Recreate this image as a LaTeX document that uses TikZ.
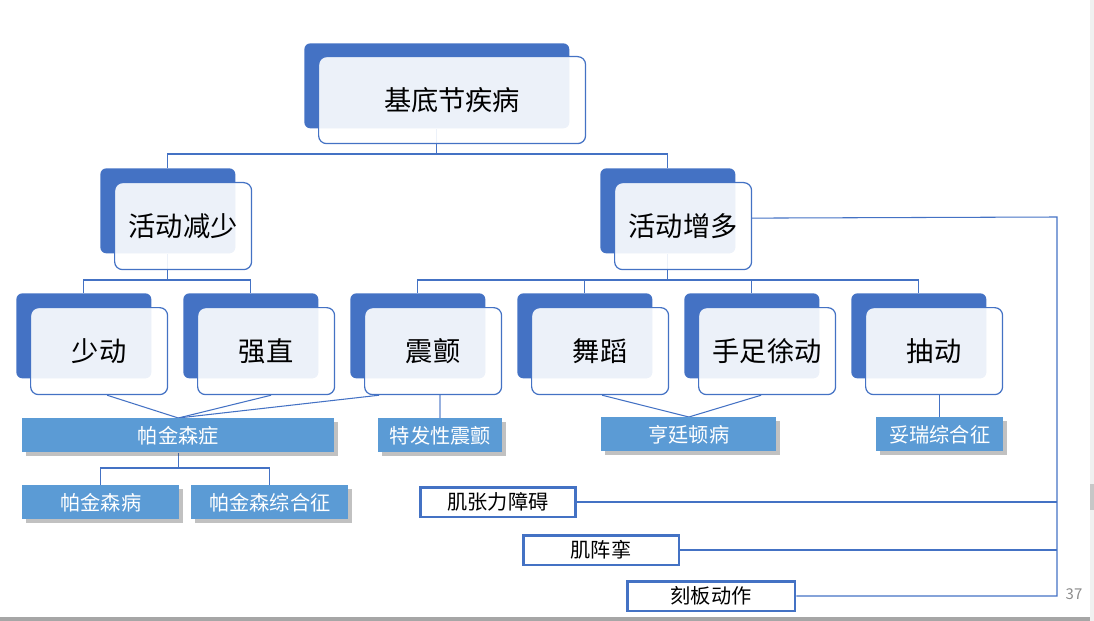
\documentclass[tikz,border=0pt]{standalone}
\usepackage{fontspec}
\setmainfont{Noto Sans CJK SC}
\usetikzlibrary{calc,positioning,backgrounds,shadows}
\definecolor{azul}{HTML}{4472C4}
\definecolor{celeste}{HTML}{5B9BD5}
\definecolor{gris}{HTML}{8C8C8C}

\begin{document}
\begin{tikzpicture}[x=0.02cm,y=-0.02cm,line cap=round,
    fondo/.style={fill=azul,rounded corners=3.4pt,inner sep=0pt,anchor=north west,
      minimum width=2.7cm,minimum height=1.7cm},
    tarjeta/.style={draw=azul,line width=0.7pt,fill=white,fill opacity=0.9,text opacity=1,
      rounded corners=4.5pt,inner sep=0pt,anchor=north west,minimum width=2.74cm,
      minimum height=1.74cm,font=\fontsize{15.5}{18}\selectfont},
    hoja/.style={fill=celeste,text=white,inner sep=0pt,anchor=north west,minimum height=0.68cm,
      font=\fontsize{11.5}{14}\selectfont,
      drop shadow={shadow xshift=2pt,shadow yshift=-2pt,opacity=0.35,fill=black!70}},
    marco/.style={draw=azul,line width=1.7pt,fill=white,inner sep=0pt,minimum height=0.6cm,
      font=\fontsize{11.5}{14}\selectfont},
    enlace/.style={azul,line width=0.6pt}]
    \useasboundingbox (0,0) rectangle (1094,621);
    \fill[black!6] (1090,0) rectangle (1094,621);
    \fill[black!22] (1090,484) rectangle (1094,510);
    \fill[black!35] (0,617) rectangle (1090,621);

    \node[fondo,minimum width=5.3cm] (fbg) at (304,43) {};
    \node[tarjeta,minimum width=5.34cm] (bg) at (318,56) {基底节疾病};
    \foreach \x/\nm/\txt in {100/hj/活动减少,600/hz/活动增多}{
      \node[fondo] (f\nm) at (\x,168) {};
      \node[tarjeta] (\nm) at (\x+14,182) {\txt};
    }
    \foreach \i/\nm/\txt in {0/sd/少动,1/qz/强直,2/zc/震颤,3/wd/舞蹈,4/sz/手足徐动,5/cd/抽动}{
      \node[fondo] (f\nm) at (16+167*\i,293) {};
      \node[tarjeta] (\nm) at (30+167*\i,307) {\txt};
    }

    \node[hoja,minimum width=6.24cm] (pjs) at (22,418) {帕金森症};
    \node[hoja,minimum width=2.48cm] (tfx) at (378,418) {特发性震颤};
    \node[hoja,minimum width=3.5cm] (htd) at (601,417) {亨廷顿病};
    \node[hoja,minimum width=2.54cm] (trz) at (876,417) {妥瑞综合征};
    \node[hoja,minimum width=3.14cm] (pjb) at (22,485) {帕金森病};
    \node[hoja,minimum width=3.14cm] (pjz) at (191,485) {帕金森综合征};

    \node[marco,minimum width=3.1cm] (jzl) at (498,502) {肌张力障碍};
    \node[marco,minimum width=3.12cm] (jzc) at (601,550) {肌阵挛};
    \node[marco,minimum width=3.36cm] (kb) at (711,596) {刻板动作};
    \node[gris,font=\fontsize{8.5}{10}\selectfont] (pag) at (1074,594) {37};

    \begin{scope}[on background layer]
      \coordinate (bus1) at (0,154);
      \coordinate (bus2) at (0,280);
      \coordinate (bus3) at (0,468);
      \coordinate (riel) at (1057,217);
      \draw[enlace] (fbg.south) -- (fbg.south |- bus1);
      \foreach \nm in {hj,hz}
        \draw[enlace] (fbg.south |- bus1) -| (f\nm.north);
      \draw[enlace] (fhj.south) -- (fhj.south |- bus2);
      \foreach \nm in {sd,qz}
        \draw[enlace] (fhj.south |- bus2) -| (f\nm.north);
      \draw[enlace] (fhz.south) -- (fhz.south |- bus2);
      \foreach \nm in {zc,wd,sz,cd}
        \draw[enlace] (fhz.south |- bus2) -| (f\nm.north);
      \foreach \nm/\dx in {sd/8,qz/5,zc/-54}
        \draw[enlace] ($(\nm.south)+(\dx,0)$) -- (pjs.north);
      \foreach \nm/\dx in {wd/2,sz/-6}
        \draw[enlace] ($(\nm.south)+(\dx,0)$) -- (htd.north);
      \draw[enlace,azul!55,line width=1pt] (tfx.north) -- (tfx.north |- zc.south);
      \draw[enlace] (trz.north) -- (trz.north |- cd.south);
      \draw[enlace] (pjs.south) -- (pjs.south |- bus3);
      \foreach \nm in {pjb,pjz}
        \draw[enlace] (pjs.south |- bus3) -| (\nm.north);
      \draw[enlace] ($(hz.east)+(0,-8)$) -- (riel) -- (riel |- kb.east) -- (kb.east);
      \draw[enlace] (jzl.east) -- (jzl.east -| riel);
      \draw[enlace] (jzc.east) -- (jzc.east -| riel);
    \end{scope}
  \end{tikzpicture}
\end{document}
